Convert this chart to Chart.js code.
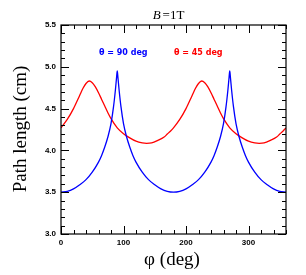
<!DOCTYPE html>
<html>
<head>
<meta charset="utf-8">
<script src="https://cdn.jsdelivr.net/npm/chart.js@4"></script>
<style>
  html, body { margin: 0; padding: 0; background: #fff; }
  canvas { display: block; }
</style>
</head>
<body>
<canvas id="pathChart" width="306" height="275"></canvas>
<script>
// theta = 90 deg (blue)
const bluePhi = [0, 10, 20, 30, 40, 50, 60, 65, 70, 75, 80, 84, 87, 89, 90, 91, 93, 96, 100, 105, 110, 115, 120, 130, 140, 150, 160, 170,
  180, 190, 200, 210, 220, 230, 240, 245, 250, 255, 260, 264, 267, 269, 270, 271, 273, 276, 280, 285, 290, 295, 300, 310, 320, 330, 340, 350, 360];
const blueLen = [3.50, 3.51, 3.54, 3.59, 3.65, 3.74, 3.86, 3.94, 4.04, 4.16, 4.32, 4.52, 4.72, 4.88, 4.95, 4.88, 4.72, 4.52, 4.32, 4.16, 4.04, 3.94, 3.86, 3.74, 3.65, 3.59, 3.54, 3.51,
  3.50, 3.51, 3.54, 3.59, 3.65, 3.74, 3.86, 3.94, 4.04, 4.16, 4.32, 4.52, 4.72, 4.88, 4.95, 4.88, 4.72, 4.52, 4.32, 4.16, 4.04, 3.94, 3.86, 3.74, 3.65, 3.59, 3.54, 3.51, 3.50];

// theta = 45 deg (red)
const redPhi = [0, 10, 20, 30, 35, 40, 45, 50, 55, 60, 65, 70, 75, 80, 90, 100, 110, 120, 130, 137, 145, 155, 165, 170, 175,
  180, 190, 200, 210, 215, 220, 225, 230, 235, 240, 245, 250, 255, 260, 270, 280, 290, 300, 310, 317, 325, 335, 345, 350, 355, 360];
const redLen = [4.27, 4.37, 4.50, 4.66, 4.74, 4.80, 4.83, 4.81, 4.76, 4.69, 4.61, 4.53, 4.45, 4.38, 4.27, 4.20, 4.15, 4.11, 4.09, 4.085, 4.09, 4.12, 4.16, 4.195, 4.23,
  4.27, 4.37, 4.50, 4.66, 4.74, 4.80, 4.83, 4.81, 4.76, 4.69, 4.61, 4.53, 4.45, 4.38, 4.27, 4.20, 4.15, 4.11, 4.09, 4.085, 4.09, 4.12, 4.16, 4.195, 4.23, 4.27];

const xMin = 0, xMax = 360, xStep = 100, xMinor = 20;
const yMin = 3.0, yMax = 5.5, yStep = 0.5, yMinor = 0.1;

const serif = '"Liberation Serif", "DejaVu Serif", serif';
const sans = '"Liberation Sans", Arial, sans-serif';

const toPoints = (xs, ys) => xs.map((x, i) => ({ x, y: ys[i] }));

// frame, inward ticks on all four sides, and the text labels
const framePlugin = {
  id: 'frame',
  afterDraw(chart) {
    const { ctx, chartArea: a, scales: { x, y } } = chart;
    ctx.save();
    ctx.strokeStyle = '#000';
    ctx.lineWidth = 1.2;
    ctx.strokeRect(a.left, a.top, a.right - a.left, a.bottom - a.top);

    ctx.lineWidth = 1;
    ctx.beginPath();
    for (let v = xMin; v <= xMax + 1e-6; v += xMinor) {
      const px = Math.round(x.getPixelForValue(v)) + 0.5;
      const len = v % xStep === 0 ? 8 : 4;
      ctx.moveTo(px, a.bottom); ctx.lineTo(px, a.bottom - len);
      ctx.moveTo(px, a.top); ctx.lineTo(px, a.top + len);
    }
    for (let k = 0; k <= Math.round((yMax - yMin) / yMinor); k++) {
      const v = yMin + k * yMinor;
      const py = Math.round(y.getPixelForValue(v)) + 0.5;
      const len = k % 5 === 0 ? 8 : 4;
      ctx.moveTo(a.left, py); ctx.lineTo(a.left + len, py);
      ctx.moveTo(a.right, py); ctx.lineTo(a.right - len, py);
    }
    ctx.stroke();

    ctx.fillStyle = '#000';
    ctx.textBaseline = 'alphabetic';

    // title: B = 1T
    ctx.textAlign = 'left';
    ctx.font = 'italic 13px ' + serif;
    const bW = ctx.measureText('B').width;
    ctx.font = '13px ' + serif;
    const restW = ctx.measureText('=1T').width + 2;
    let tx = 168.5 - (bW + restW) / 2;
    ctx.font = 'italic 13px ' + serif;
    ctx.fillText('B', tx, 19);
    ctx.font = '13px ' + serif;
    ctx.fillText('=1T', tx + bW + 2, 19);

    // axis titles
    ctx.font = '19px ' + serif;
    ctx.textAlign = 'center';
    ctx.fillText('\u03C6 (deg)', 172, 265);
    ctx.save();
    ctx.translate(26, 129);
    ctx.rotate(-Math.PI / 2);
    ctx.fillText('Path length (cm)', 0, 0);
    ctx.restore();

    // curve labels
    ctx.font = 'bold 8px "DejaVu Sans", sans-serif';
    ctx.textAlign = 'left';
    ctx.fillStyle = '#0000ff';
    ctx.fillText('\u03B8 = 90 deg', 99, 55);
    ctx.fillStyle = '#ff0000';
    ctx.fillText('\u03B8 = 45 deg', 174, 55);
    ctx.restore();
  }
};

new Chart(document.getElementById('pathChart'), {
  type: 'line',
  data: {
    datasets: [
      {
        label: '\u03B8 = 90 deg',
        data: toPoints(bluePhi, blueLen),
        borderColor: '#0000ff',
        borderWidth: 1.3,
        pointRadius: 0,
        cubicInterpolationMode: 'monotone',
        fill: false
      },
      {
        label: '\u03B8 = 45 deg',
        data: toPoints(redPhi, redLen),
        borderColor: '#ff0000',
        borderWidth: 1.3,
        pointRadius: 0,
        cubicInterpolationMode: 'monotone',
        fill: false
      }
    ]
  },
  options: {
    responsive: false,
    animation: false,
    layout: { padding: { left: 0, right: 20, top: 25, bottom: 0 } },
    plugins: {
      legend: { display: false },
      tooltip: { enabled: false }
    },
    scales: {
      x: {
        type: 'linear',
        min: xMin,
        max: xMax,
        grid: { display: false, drawTicks: false },
        border: { display: false },
        ticks: {
          stepSize: xStep,
          includeBounds: false,
          maxRotation: 0,
          padding: 4,
          color: '#000',
          font: { family: sans, weight: 'bold', size: 8 },
          callback: v => v
        },
        afterFit: s => { s.height = 41; }
      },
      y: {
        type: 'linear',
        min: yMin,
        max: yMax,
        grid: { display: false, drawTicks: false },
        border: { display: false },
        ticks: {
          stepSize: yStep,
          padding: 5,
          color: '#000',
          font: { family: sans, weight: 'bold', size: 8 },
          callback: v => v.toFixed(1)
        },
        afterFit: s => { s.width = 61; }
      }
    }
  },
  plugins: [framePlugin]
});
</script>
</body>
</html>
